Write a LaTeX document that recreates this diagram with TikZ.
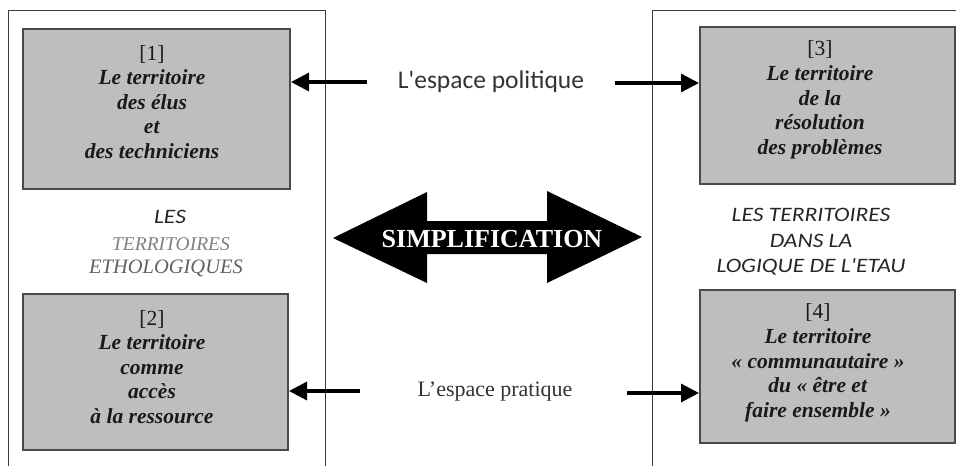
\documentclass[tikz,border=0pt]{standalone}
\usepackage{fontspec}
\setmainfont{Liberation Serif}
\newfontfamily\sansf{Carlito}
\newfontfamily\sansw[FakeStretch=1.15]{Carlito}
\usetikzlibrary{arrows.meta}
\definecolor{boxfill}{HTML}{BEBEBE}
\definecolor{boxline}{HTML}{4A4A4A}
\definecolor{panel}{HTML}{3A3A3A}
\tikzset{
  terrbox/.style={draw=boxline, line width=2pt, fill=boxfill, rectangle, inner sep=0pt},
  terrtext/.style={align=center, text=black!90, font=\fontsize{21.5}{24.6}\selectfont, inner sep=0pt},
  panelline/.style={draw=panel, line width=0.9pt},
  flowarrow/.style={line width=3.2pt, -{Triangle[length=18pt,width=18pt]}},
  grouplabel/.style={align=center, font=\sansw\itshape\fontsize{20.5}{25.5}\selectfont, text=black!85, inner sep=0pt},
}
\begin{document}
\begin{tikzpicture}[x=1pt,y=-1pt]
\useasboundingbox (0,0) rectangle (956,466);
\clip (0,0) rectangle (956,466);
% panels
\coordinate (lpA) at (8,466); \coordinate (lpB) at (8,10);
\coordinate (lpC) at (325,10); \coordinate (lpD) at (325,466);
\coordinate (rpA) at (652,466); \coordinate (rpB) at (652,10);
\coordinate (rpC) at (956,10);
\draw[panelline] (lpA) -- (lpB) -- (lpC) -- (lpD);
\draw[panelline] (rpA) -- (rpB) -- (rpC);
% boxes
\node[terrbox, minimum width=267pt, minimum height=160pt] (box1) at (156.5,109) {};
\node[terrbox, minimum width=265pt, minimum height=156pt] (box2) at (155.5,372) {};
\node[terrbox, minimum width=255pt, minimum height=157pt] (box3) at (827.5,105.5) {};
\node[terrbox, minimum width=255pt, minimum height=153pt] (box4) at (827.5,366.5) {};
% box texts
\node[terrtext] (t1) at (152,102) {[1]\\\textbf{\textit{Le territoire}}\\\textbf{\textit{des élus}}\\\textbf{\textit{et}}\\\textbf{\textit{des techniciens}}};
\node[terrtext] (t2) at (152,367) {[2]\\\textbf{\textit{Le territoire}}\\\textbf{\textit{comme}}\\\textbf{\textit{accès}}\\\textbf{\textit{à la ressource}}};
\node[terrtext] (t3) at (820,100) {[3]\\\textbf{\textit{Le territoire}}\\\textbf{\textit{de la}}\\\textbf{\textit{résolution}}\\\textbf{\textit{des problèmes}}};
\node[terrtext] (t4) at (818,363) {[4]\\\textbf{\textit{Le territoire}}\\\textbf{\textit{« communautaire »}}\\\textbf{\textit{du « être et}}\\\textbf{\textit{faire ensemble »}}};
% group labels
\node[grouplabel] (lgL1) at (170,217) {LES};
\node[inner sep=0pt, font=\itshape\fontsize{19.5}{20}\selectfont, text=black!50] (lgL2) at (171,244) {TERRITOIRES};
\node[inner sep=0pt, font=\itshape\fontsize{20.5}{20}\selectfont, text=black!62] (lgL3) at (166,268) {ETHOLOGIQUES};
\node[grouplabel] (lgR) at (811,242) {LES TERRITOIRES\\DANS LA\\LOGIQUE DE L'ETAU};
% spaces
\node[inner sep=0pt, font=\sansf\fontsize{25.5}{28}\selectfont, text=black!80] (pol) at (491,82) {L'espace politique};
\node[inner sep=0pt, font=\fontsize{22}{24}\selectfont, text=black!80] (pra) at (495,392) {L'espace pratique};
\coordinate (polL) at (367,82);
\coordinate (polR) at (615,83);
\coordinate (praL) at (360,391);
\coordinate (praR) at (627,393);
\draw[flowarrow] (polL) -- (box1.east |- polL);
\draw[flowarrow] (polR) -- (box3.west |- polR);
\draw[flowarrow] (praL) -- (box2.east |- praL);
\draw[flowarrow] (praR) -- (box4.west |- praR);
% big double arrow
\fill[black] (333,238) -- (427,192) -- (427,221) -- (547,221) -- (547,191) -- (642,237)
  -- (547,283) -- (547,254) -- (427,254) -- (427,283) -- cycle;
\node[inner sep=0pt, text=white, font=\bfseries\fontsize{26}{28}\selectfont] (simp) at (492,239) {SIMPLIFICATION};
\end{tikzpicture}
\end{document}
